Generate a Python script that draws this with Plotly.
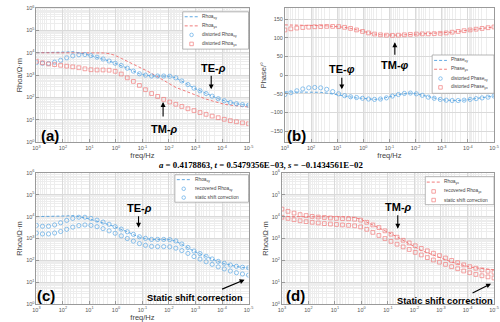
import plotly.graph_objects as go

W, H = 500, 322

# ---------------- data ----------------
freq = [1000, 590, 349, 206, 122, 72.0, 42.6, 25.1, 14.8, 8.77, 5.18, 3.06, 1.81, 1.07,
        0.631, 0.373, 0.220, 0.130, 0.0769, 0.0454, 0.0268, 0.0158, 0.00936, 0.00553,
        0.00327, 0.00193, 0.00114, 0.000675, 0.000398, 0.000235, 0.000139, 8.20e-5,
        4.85e-5, 2.86e-5, 1.69e-5, 1.0e-5]

rhoa_xy_true = [10000, 10000, 10000, 10000, 10200, 10700, 11200, 10200, 8710, 7410, 6310, 5250,
                4270, 3390, 2690, 2040, 1510, 1150, 1000, 912, 912, 912, 891, 759, 550, 380,
                263, 200, 151, 115, 89, 72, 60, 53, 48, 45]
rhoa_yx_true = [10000, 10000, 10000, 10000, 10000, 10000, 10000, 10000, 10000, 10000, 10000,
                9770, 9120, 7590, 5620, 4170, 3160, 2400, 1660, 1200, 851, 603, 398, 282, 224,
                174, 135, 107, 85, 71, 59, 50, 46, 42, 40, 38]
rhoa_xy_dist = [3630, 3390, 3310, 3800, 4570, 5890, 7240, 8130, 8320, 7410, 6310, 5250, 4270,
                3390, 2690, 2040, 1510, 1150, 1000, 912, 912, 912, 891, 759, 550, 380, 263, 200,
                151, 115, 89, 72, 60, 53, 48, 45]
rhoa_yx_dist = [4170, 3550, 3160, 2950, 2750, 2510, 2340, 2140, 1910, 1740, 1700, 1700, 1660,
                1480, 1120, 759, 525, 347, 224, 151, 112, 83, 63, 50, 40, 31.6, 26.3, 21.4,
                17.8, 14.8, 12.6, 10.7, 9.3, 8.3, 7.4, 6.8]

phase_xy_true = [-45, -45, -45, -45, -45, -45, -46, -48, -51, -54, -57, -59, -61, -62, -64, -65,
                 -64, -61, -56, -52, -49, -48, -50, -54, -59, -62, -65, -67, -68, -68, -67, -65,
                 -63, -61, -59, -56]
phase_yx_true = [134.5, 134.5, 134, 134, 133.5, 133, 132.5, 132, 131, 130, 128, 125, 121, 117,
                 113, 110, 108, 107, 106.5, 107, 108, 109, 110, 110.5, 110.5, 111, 112, 113, 115,
                 117, 119, 121, 123, 125, 127, 129]
phase_xy_dist = [-52, -47, -42, -37, -34, -33, -34, -38, -44, -50, -55, -58, -60, -62, -64, -65,
                 -64, -61, -56, -52, -49, -48, -50, -54, -59, -62, -65, -67, -68, -68, -67, -65,
                 -63, -61, -59, -56]
phase_yx_dist = [121, 124, 126, 127.5, 128.5, 129.5, 130, 130.5, 130.5, 130, 128, 125, 121, 117,
                 113, 110, 108, 107, 106.5, 107, 108, 109, 110, 110.5, 110.5, 111, 112, 113, 115,
                 117, 119, 121, 123, 125, 127, 129]

rhoa_xy_rec = [3980, 3630, 3630, 4170, 5250, 6760, 8320, 9330, 9330, 8320, 6920, 5620, 4470,
               3470, 2690, 2040, 1550, 1200, 1020, 912, 912, 912, 891, 776, 562, 390, 270, 205,
               155, 117, 91, 74, 62, 54, 49, 46]
rhoa_xy_ss = [1780, 1620, 1620, 1780, 2090, 2630, 3310, 3890, 4170, 3980, 3470, 2820, 2240, 1740,
              1320, 1000, 759, 589, 490, 437, 427, 427, 417, 363, 282, 209, 151, 115, 87, 66, 51,
              41, 33, 27.5, 24, 21.4]
rhoa_yx_rec = [21900, 17400, 14500, 12300, 11200, 10200, 9550, 9120, 8710, 8320, 8130, 7940,
               7590, 6920, 5500, 4170, 3160, 2240, 1580, 1150, 832, 631, 468, 355, 275, 214, 166,
               129, 100, 79, 63, 52, 44, 37, 32, 29]
rhoa_yx_ss = [9330, 8320, 7240, 6460, 5890, 5500, 5130, 4790, 4570, 4370, 4170, 3980, 3800, 3390,
              2630, 1910, 1380, 1000, 741, 550, 417, 316, 234, 178, 135, 105, 83, 66, 52, 42, 33,
              27.5, 22.9, 20, 17.8, 15.8]

x_tick_vals = [1e3, 1e2, 1e1, 1e0, 1e-1, 1e-2, 1e-3, 1e-4, 1e-5]
x_tick_text = ["10<sup>3</sup>", "10<sup>2</sup>", "10<sup>1</sup>", "10<sup>0</sup>",
               "10<sup>-1</sup>", "10<sup>-2</sup>", "10<sup>-3</sup>", "10<sup>-4</sup>",
               "10<sup>-5</sup>"]
y_tick_vals = [1, 10, 100, 1e3, 1e4, 1e5, 1e6]
y_tick_text = ["10<sup>0</sup>", "10<sup>1</sup>", "10<sup>2</sup>", "10<sup>3</sup>",
               "10<sup>4</sup>", "10<sup>5</sup>", "10<sup>6</sup>"]
phase_ticks = [-150, -100, -50, 0, 50, 100, 150]

# ---------------- style ----------------
BLUE = "#4f9fdf"
RED = "#ef6d6d"
MBLUE = "#5eaae6"
MRED = "#f07c7c"
FONT = "Liberation Sans"
DASH = "3px,2px"

fig = go.Figure()


def dashed(x, y, color, xa, ya):
    fig.add_trace(go.Scatter(x=x, y=y, mode="lines", xaxis=xa, yaxis=ya, showlegend=False,
                             line=dict(color=color, width=0.9, dash=DASH)))


def marks(x, y, color, symbol, size, xa, ya):
    fig.add_trace(go.Scatter(x=x, y=y, mode="markers", xaxis=xa, yaxis=ya, showlegend=False,
                             marker=dict(symbol=symbol, size=size, color=color,
                                         line=dict(color=color, width=0.7))))


# (a)
dashed(freq, rhoa_xy_true, BLUE, "x", "y")
dashed(freq, rhoa_yx_true, RED, "x", "y")
marks(freq, rhoa_xy_dist, MBLUE, "circle-open", 4.2, "x", "y")
marks(freq, rhoa_yx_dist, MRED, "square-open", 3.8, "x", "y")
# (b)
dashed(freq, phase_xy_true, BLUE, "x2", "y2")
dashed(freq, phase_yx_true, RED, "x2", "y2")
marks(freq, phase_xy_dist, MBLUE, "circle-open", 4.2, "x2", "y2")
marks(freq, phase_yx_dist, MRED, "square-open", 3.8, "x2", "y2")
# (c)
dashed(freq, rhoa_xy_true, BLUE, "x3", "y3")
marks(freq, rhoa_xy_rec, MBLUE, "circle-open", 4.2, "x3", "y3")
marks(freq, rhoa_xy_ss, MBLUE, "circle-open", 4.2, "x3", "y3")
# (d)
dashed(freq, rhoa_yx_true, RED, "x4", "y4")
marks(freq, rhoa_yx_rec, MRED, "square-open", 3.8, "x4", "y4")
marks(freq, rhoa_yx_ss, MRED, "square-open", 3.8, "x4", "y4")


def px(v):
    return v / W


def py(v):
    return 1 - v / H


common = dict(showline=True, mirror=True, linecolor="#9a9a9a", linewidth=0.8,
              ticks="inside", ticklen=3, tickcolor="#9a9a9a", zeroline=False,
              tickfont=dict(family=FONT, size=5.5, color="#555555"),
              showgrid=True, gridcolor="#dadada", gridwidth=0.6)


def xaxis(x0, x1, anchor, title, standoff=1):
    d = dict(domain=[px(x0), px(x1)], anchor=anchor, type="log", range=[3, -5],
             tickmode="array", tickvals=x_tick_vals, ticktext=x_tick_text,
             minor=dict(dtick="D1", showgrid=True, gridcolor="#ededed", gridwidth=0.5),
             **common)
    if title:
        d["title"] = dict(text="freq/Hz", font=dict(family=FONT, size=7.5, color="#444"),
                          standoff=standoff)
    return d


def ylog(y0, y1, anchor):
    return dict(domain=[py(y1), py(y0)], anchor=anchor, type="log", range=[0, 6],
                tickmode="array", tickvals=y_tick_vals, ticktext=y_tick_text,
                minor=dict(dtick="D1", showgrid=True, gridcolor="#ededed", gridwidth=0.5),
                title=dict(text="Rhoa/Ω·m", font=dict(family=FONT, size=7.5, color="#444"), standoff=2),
                **common)


fig.update_layout(
    width=W, height=H, margin=dict(l=0, r=0, t=0, b=0),
    paper_bgcolor="white", plot_bgcolor="white",
    xaxis=xaxis(33, 249, "y", True),
    yaxis=ylog(5, 142, "x"),
    xaxis2=xaxis(286, 499, "y2", True),
    yaxis2=dict(domain=[py(142), py(5)], anchor="x2", range=[-180, 180], tickmode="array",
                tickvals=phase_ticks,
                title=dict(text="Phase/°", font=dict(family=FONT, size=7.5, color="#444"), standoff=2),
                **common),
    xaxis3=xaxis(33, 249, "y3", True, standoff=4),
    yaxis3=ylog(173, 307, "x3"),
    xaxis4=xaxis(283, 499, "y4", False),
    yaxis4=ylog(173, 307, "x4"),
)

shapes = []
annotations = []


def legend_box(x0, y0, x1, y1):
    shapes.append(dict(type="rect", xref="paper", yref="paper", x0=px(x0), x1=px(x1),
                       y0=py(y1), y1=py(y0), line=dict(color="#9a9a9a", width=0.7),
                       fillcolor="white", layer="above"))


def leg_line(x0, x1, y, color):
    shapes.append(dict(type="line", xref="paper", yref="paper", x0=px(x0), x1=px(x1),
                       y0=py(y), y1=py(y), line=dict(color=color, width=0.9, dash=DASH),
                       layer="above"))


def leg_mark(cx, cy, color, kind):
    r = 1.8
    shapes.append(dict(type="circle" if kind == "c" else "rect", xref="paper", yref="paper",
                       x0=px(cx - r), x1=px(cx + r), y0=py(cy + r), y1=py(cy - r),
                       line=dict(color=color, width=0.7), layer="above"))


def leg_text(x, y, text):
    annotations.append(dict(xref="paper", yref="paper", x=px(x), y=py(y), text=text,
                            showarrow=False, xanchor="left", yanchor="middle",
                            font=dict(family=FONT, size=4.8, color="#444")))


# legend (a)
legend_box(182, 9, 249, 47)
leg_line(184, 198, 14, BLUE); leg_text(200, 14, "Rhoa<sub>xy</sub>")
leg_line(184, 198, 23.3, RED); leg_text(200, 23.3, "Rhoa<sub>yx</sub>")
leg_mark(191, 32.5, MBLUE, "c"); leg_text(200, 32.5, "distorted Rhoa<sub>xy</sub>")
leg_mark(191, 41.7, MRED, "s"); leg_text(200, 41.7, "distorted Rhoa<sub>yx</sub>")
# legend (b)
legend_box(436, 53, 499, 92)
leg_line(438, 451, 58.5, BLUE); leg_text(453, 58.5, "Phase<sub>xy</sub>")
leg_line(438, 451, 67.5, RED); leg_text(453, 67.5, "Phase<sub>yx</sub>")
leg_mark(444.5, 77, MBLUE, "c"); leg_text(453, 77, "distorted Phase<sub>xy</sub>")
leg_mark(444.5, 86, MRED, "s"); leg_text(453, 86, "distorted Phase<sub>yx</sub>")
# legend (c)
legend_box(174, 175, 249, 203)
leg_line(176, 190, 180, BLUE); leg_text(192, 180, "Rhoa<sub>xy</sub>")
leg_mark(183, 189.3, MBLUE, "c"); leg_text(192, 189.3, "recovered Rhoa<sub>xy</sub>")
leg_mark(183, 198.3, MBLUE, "c"); leg_text(192, 198.3, "static shift correction")
# legend (d)
legend_box(429, 177, 499, 205.5)
leg_line(430.5, 444, 182.5, RED); leg_text(446.5, 182.5, "Rhoa<sub>yx</sub>")
leg_mark(437.5, 192, MRED, "s"); leg_text(446.5, 192, "recovered Rhoa<sub>yx</sub>")
leg_mark(437.5, 200.8, MRED, "s"); leg_text(446.5, 200.8, "static shift correction")


def label(x, y, text, size=11):
    annotations.append(dict(xref="paper", yref="paper", x=px(x), y=py(y), text=text,
                            showarrow=False, xanchor="center", yanchor="middle",
                            font=dict(family=FONT, size=size, color="black")))


def arrow(x0, y0, x1, y1):
    annotations.append(dict(xref="paper", yref="paper", x=px(x1), y=py(y1), text="",
                            showarrow=True, axref="pixel", ayref="pixel",
                            ax=x0 - x1, ay=y0 - y1, arrowhead=2, arrowsize=0.9,
                            arrowwidth=1.1, arrowcolor="black", standoff=0, startstandoff=0))


# panel letters
label(47, 135, "<b>(a)</b>", 15)
label(298, 135, "<b>(b)</b>", 15)
label(43, 298, "<b>(c)</b>", 15)
label(297, 298, "<b>(d)</b>", 15)

# (a)
label(213, 66, "<b>TE-<i>ρ</i></b>")
arrow(211, 73, 211, 88)
label(163, 128, "<b>TM-<i>ρ</i></b>")
arrow(162, 117, 162, 101)
# (b)
label(344, 67, "<b>TE-<i>φ</i></b>")
arrow(344, 75, 344, 88)
label(398, 63, "<b>TM-<i>φ</i></b>")
arrow(398, 54, 398, 40)
# (c)
label(194, 301, "<b>Static shift correction</b>", 9.3)
label(138, 209, "<b>TE-<i>ρ</i></b>")
arrow(137, 216, 137, 229)
arrow(221, 292, 245, 282)
# (d)
label(449, 304, "<b>Static shift correction</b>", 9.3)
label(402, 208, "<b>TM-<i>ρ</i></b>")
arrow(401, 215, 401, 230)
arrow(476, 296, 496, 286)

# parameter line
annotations.append(dict(xref="paper", yref="paper", x=px(262), y=py(165),
                        text="<b><i>a</i> = 0.4178863, <i>t</i> = 0.5479356E−03, <i>s</i> = −0.1434561E−02</b>",
                        showarrow=False, xanchor="center", yanchor="middle",
                        font=dict(family="Liberation Serif", size=8.8, color="black")))

fig.update_layout(shapes=shapes, annotations=annotations)
fig.write_html("out.html", config={"displayModeBar": False},
               post_script="document.body.style.margin='0';document.body.style.overflow='hidden';")
